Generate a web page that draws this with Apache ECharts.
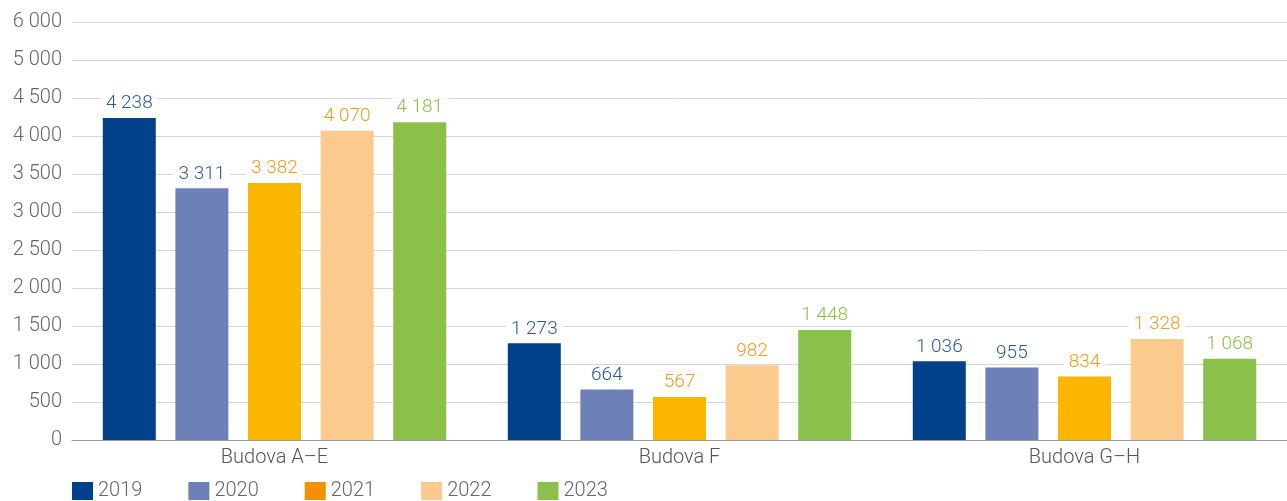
<!DOCTYPE html>
<html>
<head>
<meta charset="utf-8">
<script src="https://cdn.jsdelivr.net/npm/echarts@6/dist/echarts.min.js"></script>
<style>
  html, body { margin: 0; padding: 0; background: #fff; }
  #chart { width: 1287px; height: 501px; }
</style>
</head>
<body>
<div id="chart"></div>
<script>
var categories = ['Budova A–E', 'Budova F', 'Budova G–H'];
var years = ['2019', '2020', '2021', '2022', '2023'];

var v2019 = [4238, 1273, 1036];
var v2020 = [3311, 664, 955];
var v2021 = [3382, 567, 834];
var v2022 = [4070, 982, 1328];
var v2023 = [4181, 1448, 1068];

// the top tick reads "6 000" in the original even though it sits one step above 5 000
var tickLabels = ['0', '500', '1 000', '1 500', '2 000', '2 500', '3 000', '3 500', '4 000', '4 500', '5 000', '6 000'];

var barColors = ['#00418a', '#6d80b7', '#fbb600', '#fbcb8e', '#8bc04b'];
var legendColors = ['#00418a', '#6d80b7', '#f39200', '#fbcb8e', '#8bc04b'];
var labelColors = ['#2a5aa0', '#2a5aa0', '#f39a1e', '#f39a1e', '#8bc04b'];

var values = [v2019, v2020, v2021, v2022, v2023];

function fmt(n) {
  return String(n).replace(/\B(?=(\d{3})+(?!\d))/g, ' ');
}

var font = 'Roboto';

var myChart = echarts.init(document.getElementById('chart'));

var series = years.map(function (y, i) {
  return {
    name: y,
    type: 'bar',
    data: values[i],
    barWidth: 53,
    barGap: '37%',
    itemStyle: { color: barColors[i] },
    label: {
      show: true,
      position: 'top',
      distance: 5,
      formatter: function (p) { return fmt(p.value); },
      color: labelColors[i],
      fontFamily: font,
      fontWeight: 300,
      fontSize: 19,
      backgroundColor: '#fff',
      padding: [0, 5]
    }
  };
});

var option = {
  animation: false,
  grid: {
    left: 72,
    right: 0,
    top: 22,
    bottom: 61
  },
  legend: {
    left: 72,
    top: 481,
    padding: 0,
    itemWidth: 21,
    itemHeight: 18,
    itemGap: 46,
    icon: 'rect',
    textStyle: {
      color: '#666',
      fontFamily: font,
      fontWeight: 300,
      fontSize: 20
    },
    data: years.map(function (y, i) {
      return { name: y, itemStyle: { color: legendColors[i] } };
    })
  },
  xAxis: {
    type: 'category',
    data: categories,
    axisTick: { show: false },
    axisLine: { lineStyle: { color: '#9a9a9a', width: 1 } },
    axisLabel: {
      margin: 8,
      color: '#555',
      fontFamily: font,
      fontWeight: 300,
      fontSize: 20
    }
  },
  yAxis: {
    type: 'value',
    min: 0,
    max: 5500,
    interval: 500,
    axisLine: { show: false },
    axisTick: { show: false },
    splitLine: { lineStyle: { color: '#d6d6d6', width: 1 } },
    axisLabel: {
      margin: 10,
      color: '#666',
      fontFamily: font,
      fontWeight: 300,
      fontSize: 20,
      formatter: function (v) { return tickLabels[Math.round(v / 500)]; }
    }
  },
  series: series
};

myChart.setOption(option);
window.addEventListener('resize', myChart.resize);
</script>
</body>
</html>
